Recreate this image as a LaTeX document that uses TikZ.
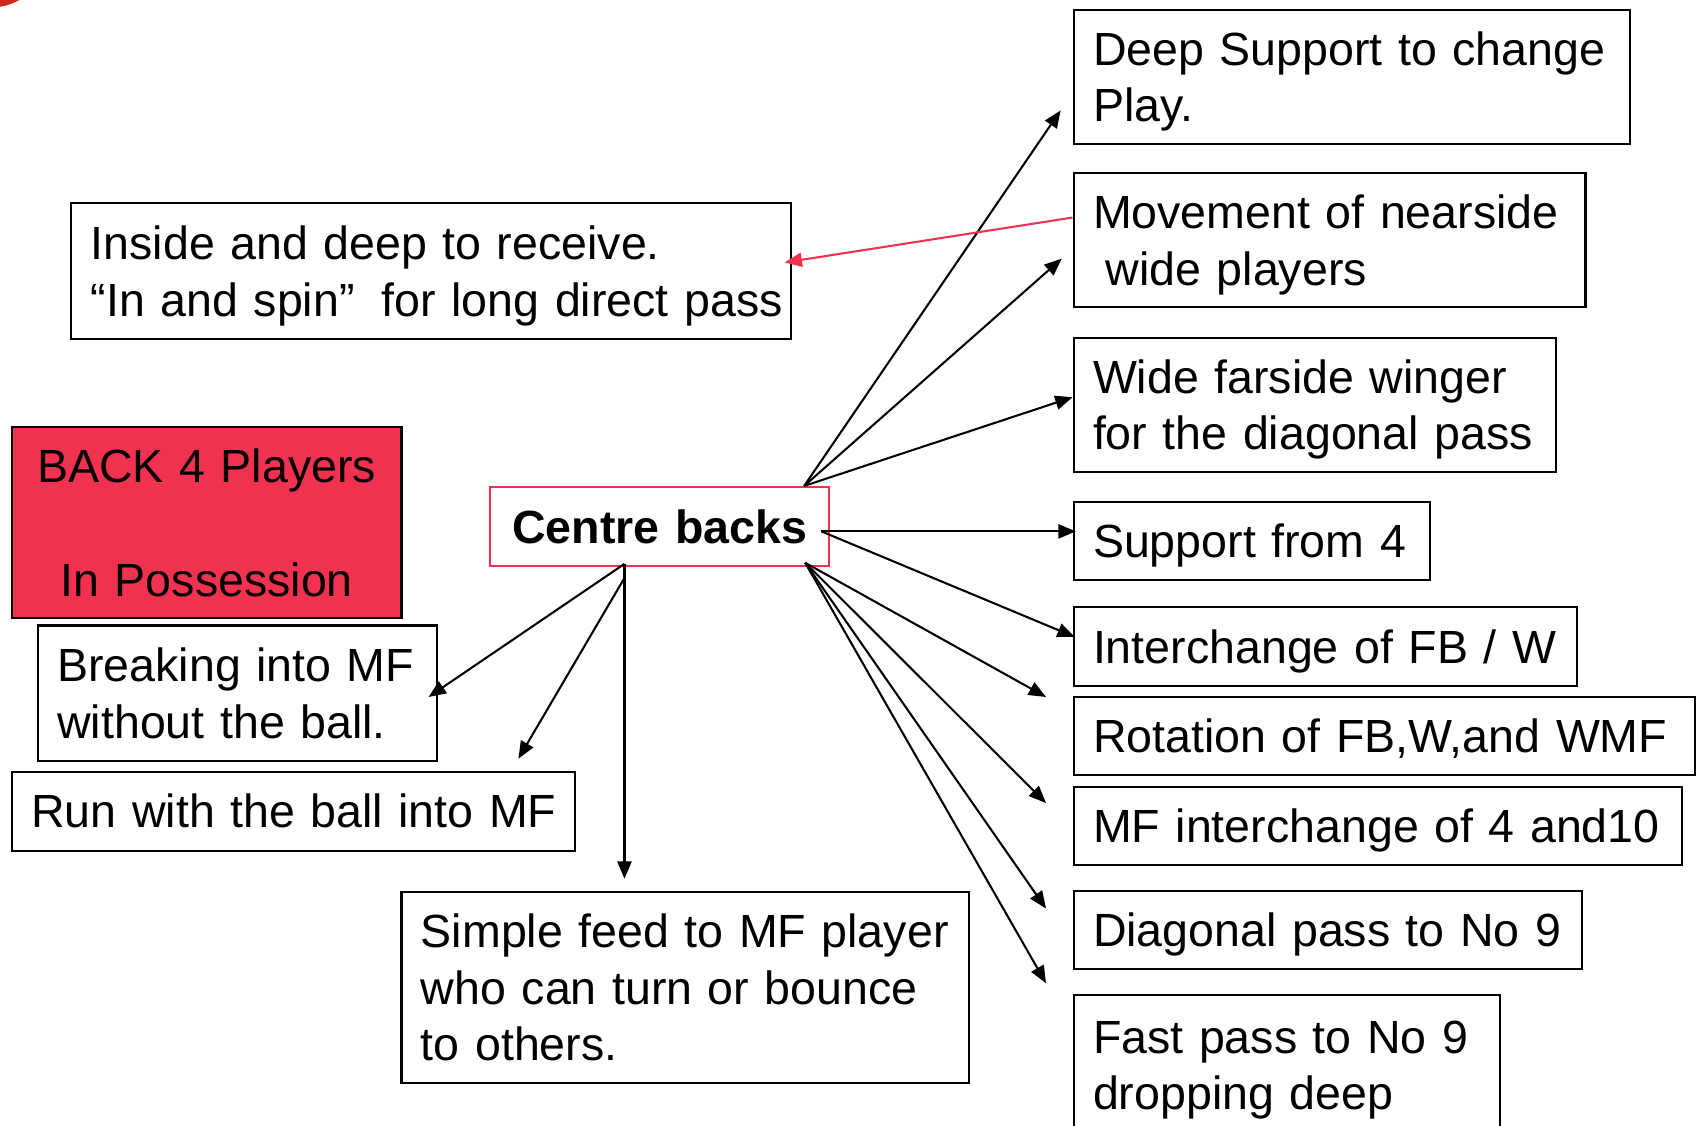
\documentclass[tikz,border=0pt]{standalone}
\usepackage{fontspec}
\setmainfont{Liberation Sans}
\usetikzlibrary{arrows.meta}
\definecolor{accent}{RGB}{240,50,80}
\definecolor{cornerred}{RGB}{208,42,30}
\newcommand{\boxfont}{\fontsize{43pt}{52.3pt}\selectfont}
% one unbreakable line of box text
\newcommand{\keepline}[1]{\mbox{#1}}

\begin{document}
\begin{tikzpicture}[x=1pt,y=-1pt,
  box/.style={draw, line width=1.9pt, fill=white, anchor=north west,
    inner xsep=18pt, inner ysep=0pt, align=left, font=\boxfont,
    text height=31pt, text depth=0pt},
  twoline/.style={text depth=52.3pt},
  threeline/.style={text depth=104.6pt},
  link/.style={line width=1.9pt, -{Triangle[length=16pt,width=13pt]}},
]
\useasboundingbox (0,0) rectangle (1568,1040);
\fill[white] (0,0) rectangle (1568,1040);
\clip (0,0) rectangle (1568,1040);

% corner mark
\fill[cornerred] (0,0) -- (18,0) -- (13,2.5) -- (6,5) -- (0,6.3) -- cycle;

% right-hand column
\node[box, twoline, text width=478pt, minimum height=124pt] (deep) at (991,8)
  {\keepline{Deep Support to change}\\\keepline{Play.}};
\node[box, twoline, text width=437pt, minimum height=124pt] (move) at (991,159)
  {\keepline{Movement of nearside}\\\keepline{\hspace*{0.27em}wide players}};
\node[box, twoline, text width=410pt, minimum height=124pt] (wide) at (991,311)
  {\keepline{Wide farside winger}\\\keepline{for the diagonal pass}};
\node[box, text width=293pt, minimum height=72pt] (sup) at (991,463)
  {\keepline{Support from 4}};
\node[box, text width=429pt, minimum height=73pt] (inter) at (991,560)
  {\keepline{Interchange of FB / W}};
\node[box, text width=538pt, minimum height=72pt] (rot) at (991,643)
  {\keepline{Rotation of FB,W,and WMF}};
\node[box, text width=526pt, minimum height=72pt] (mfi) at (991,726)
  {\keepline{MF interchange of 4 and10}};
\node[box, text width=434pt, minimum height=72pt] (diag) at (991,822)
  {\keepline{Diagonal pass to No 9}};
\node[box, twoline, text width=358pt, minimum height=130pt] (fast) at (991,918)
  {\keepline{Fast pass to No 9}\\\keepline{dropping deep}};

% left-hand side
\node[box, twoline, text width=629pt, minimum height=125pt] (inside) at (65,187)
  {\keepline{Inside and deep to receive.}\\\keepline{“In and spin”\hspace{0.25em} for long direct pass}};
\node[box, threeline, fill=accent, align=center, text width=324pt,
  minimum height=176pt] (back) at (10,394)
  {\keepline{BACK 4 Players}\\[52.3pt]\keepline{In Possession}};
\node[box, draw=accent, align=center, text width=277pt, minimum height=73pt,
  font=\boxfont\bfseries] (cb) at (452,449) {\keepline{Centre backs}};
\node[box, twoline, text width=333pt, minimum height=125pt] (brk) at (34,577)
  {\keepline{Breaking into MF}\\\keepline{without the ball.}};
\node[box, text width=484pt, minimum height=73pt] (run) at (10,712)
  {\keepline{Run with the ball into MF}};
\node[box, threeline, text width=488pt, minimum height=177pt] (feed) at (370,823)
  {\keepline{Simple feed to MF player}\\\keepline{who can turn or bounce}\\\keepline{to others.}};

% connector end points
\coordinate (fanTop) at (743,449);
\coordinate (fanMid) at (759,491);
\coordinate (fanLow) at (744,520);
\coordinate (dropTop) at (577,521);
\coordinate (runStart) at (577,534);
\coordinate (moveOut) at (991,201);

\coordinate (deepTip) at (980,102);
\coordinate (moveTip) at (981,239);
\coordinate (wideTip) at (991,367);
\coordinate (supTip) at (994,491);
\coordinate (interTip) at (993,588.5);
\coordinate (rotTip) at (966.5,644);
\coordinate (mfiTip) at (966.5,742);
\coordinate (diagTip) at (966.5,839.5);
\coordinate (fastTip) at (966.5,908.5);
\coordinate (brkTip) at (396,644);
\coordinate (runTip) at (479,701);
\coordinate (feedTip) at (577,812);
\coordinate (insideTip) at (725,242.5);

% connectors from the centre backs
\draw[link] (fanTop) -- (deepTip);
\draw[link] (fanTop) -- (moveTip);
\draw[link] (fanTop) -- (wideTip);
\draw[link] (fanMid) -- (supTip);
\draw[link] (fanMid) -- (interTip);
\draw[link] (fanLow) -- (rotTip);
\draw[link] (fanLow) -- (mfiTip);
\draw[link] (fanLow) -- (diagTip);
\draw[link] (fanLow) -- (fastTip);
\draw[link] (dropTop) -- (brkTip);
\draw[link] (runStart) -- (runTip);
\draw[link] (dropTop) -- (feedTip);

% wide players feeding the inside run
\draw[link, draw=accent, fill=accent] (moveOut) -- (insideTip);
\end{tikzpicture}
\end{document}
